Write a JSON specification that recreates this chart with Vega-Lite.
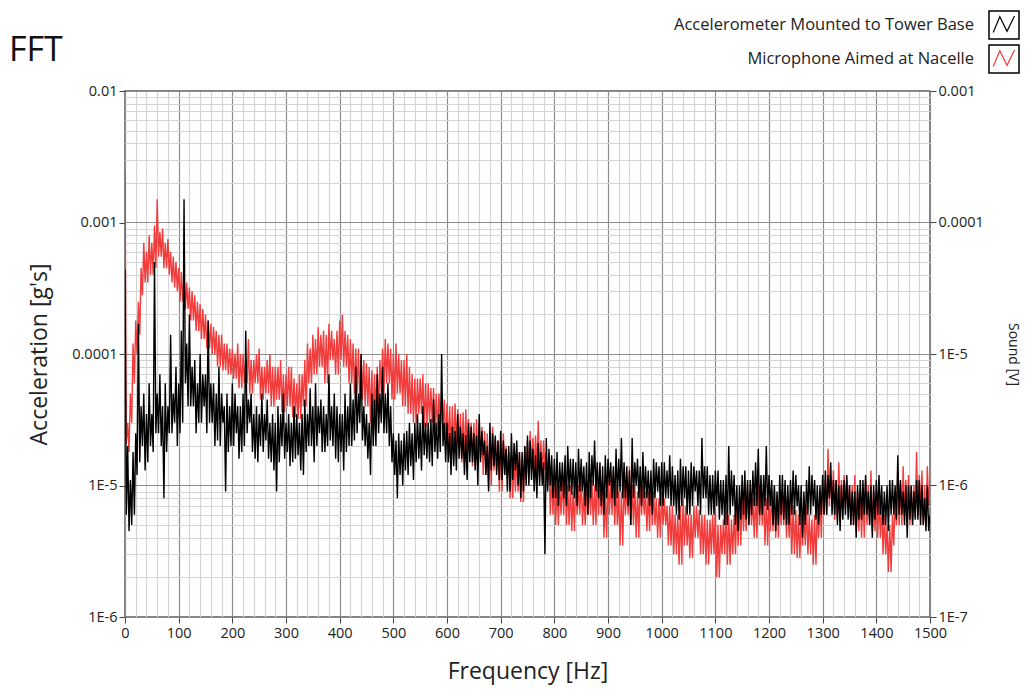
{
"$schema":"https://vega.github.io/schema/vega-lite/v6.json",
"width":805,"height":526,
"autosize":{"type":"none"},
"padding":{"left":125,"top":91,"right":104,"bottom":73},
"background":"white",
"config":{"view":{"stroke":"#5a5a5a","strokeWidth":1.5},"font":"Open Sans",
"axis":{"labelFont":"Open Sans","labelFontSize":14.5,"labelColor":"#222","titleFont":"Open Sans","titleFontWeight":"normal","titleColor":"#222","tickColor":"#444","domain":false,"labelFlush":false,"labelOverlap":false}},
"title":{"text":"FFT","anchor":"start","frame":"group","fontSize":34,"fontWeight":"normal","font":"Open Sans","color":"#111","dx":-116,"offset":25,"dy":84},
"datasets":{
"acc":[
{"f":0,"a":44e-5},{"f":2.5,"a":0.6e-5},{"f":5,"a":2e-5},{"f":7.5,"a":0.45e-5},{"f":10,"a":1.1e-5},{"f":12.5,"a":0.5e-5},{"f":15,"a":1.8e-5},{"f":17.5,"a":0.6e-5},{"f":20,"a":2.5e-5},{"f":22.5,"a":1.2e-5},
{"f":25,"a":17e-5},{"f":27.5,"a":1.5e-5},{"f":30,"a":4e-5},{"f":32.5,"a":2e-5},{"f":35,"a":5e-5},{"f":37.5,"a":1.3e-5},{"f":40,"a":3.5e-5},{"f":42.5,"a":1.5e-5},{"f":45,"a":6e-5},{"f":47.5,"a":2e-5},
{"f":50,"a":3.5e-5},{"f":52.5,"a":1.8e-5},{"f":55,"a":50e-5},{"f":57.5,"a":2.5e-5},{"f":60,"a":5e-5},{"f":62.5,"a":2.5e-5},{"f":65,"a":7e-5},{"f":67.5,"a":2e-5},{"f":70,"a":4e-5},{"f":72.5,"a":0.8e-5},
{"f":75,"a":6e-5},{"f":77.5,"a":1.8e-5},{"f":80,"a":4e-5},{"f":82.5,"a":2.5e-5},{"f":85,"a":14e-5},{"f":87.5,"a":2.5e-5},{"f":90,"a":5e-5},{"f":92.5,"a":3e-5},{"f":95,"a":8e-5},{"f":97.5,"a":2e-5},
{"f":100,"a":6e-5},{"f":102.5,"a":2.5e-5},{"f":105,"a":15e-5},{"f":107.5,"a":3e-5},{"f":110,"a":150e-5},{"f":112.5,"a":6e-5},{"f":115,"a":12e-5},{"f":117.5,"a":4e-5},{"f":120,"a":20e-5},{"f":122.5,"a":4e-5},
{"f":125,"a":8e-5},{"f":127.5,"a":4e-5},{"f":130,"a":9e-5},{"f":132.5,"a":2.5e-5},{"f":135,"a":6e-5},{"f":137.5,"a":3e-5},{"f":140,"a":10e-5},{"f":142.5,"a":3e-5},{"f":145,"a":7e-5},{"f":147.5,"a":4e-5},
{"f":150,"a":7e-5},{"f":152.5,"a":2.5e-5},{"f":155,"a":18e-5},{"f":157.5,"a":3e-5},{"f":160,"a":6e-5},{"f":162.5,"a":3e-5},{"f":165,"a":6e-5},{"f":167.5,"a":2e-5},{"f":170,"a":5e-5},{"f":172.5,"a":2.2e-5},
{"f":175,"a":8e-5},{"f":177.5,"a":2e-5},{"f":180,"a":5e-5},{"f":182.5,"a":3e-5},{"f":185,"a":4e-5},{"f":187.5,"a":0.9e-5},{"f":190,"a":5e-5},{"f":192.5,"a":1.8e-5},{"f":195,"a":4e-5},{"f":197.5,"a":2e-5},
{"f":200,"a":6e-5},{"f":202.5,"a":2e-5},{"f":205,"a":5e-5},{"f":207.5,"a":2.5e-5},{"f":210,"a":4e-5},{"f":212.5,"a":1.6e-5},{"f":215,"a":4e-5},{"f":217.5,"a":1.8e-5},{"f":220,"a":5e-5},{"f":222.5,"a":2e-5},
{"f":225,"a":15e-5},{"f":227.5,"a":2.5e-5},{"f":230,"a":4.5e-5},{"f":232.5,"a":3e-5},{"f":235,"a":5e-5},{"f":237.5,"a":1.8e-5},{"f":240,"a":3.5e-5},{"f":242.5,"a":1.6e-5},{"f":245,"a":4e-5},{"f":247.5,"a":1.5e-5},
{"f":250,"a":3.5e-5},{"f":252.5,"a":2e-5},{"f":255,"a":5e-5},{"f":257.5,"a":1.8e-5},{"f":260,"a":3.5e-5},{"f":262.5,"a":2.2e-5},{"f":265,"a":4.5e-5},{"f":267.5,"a":1.6e-5},{"f":270,"a":3e-5},{"f":272.5,"a":1.5e-5},
{"f":275,"a":3.5e-5},{"f":277.5,"a":1.3e-5},{"f":280,"a":3e-5},{"f":282.5,"a":0.9e-5},{"f":285,"a":4e-5},{"f":287.5,"a":1.5e-5},{"f":290,"a":3.5e-5},{"f":292.5,"a":2e-5},{"f":295,"a":5e-5},{"f":297.5,"a":1.6e-5},
{"f":300,"a":3e-5},{"f":302.5,"a":1.8e-5},{"f":305,"a":3.5e-5},{"f":307.5,"a":1.4e-5},{"f":310,"a":3e-5},{"f":312.5,"a":1.5e-5},{"f":315,"a":4e-5},{"f":317.5,"a":1.6e-5},{"f":320,"a":3.5e-5},{"f":322.5,"a":1.7e-5},
{"f":325,"a":3e-5},{"f":327.5,"a":1.3e-5},{"f":330,"a":3.5e-5},{"f":332.5,"a":1.2e-5},{"f":335,"a":4.5e-5},{"f":337.5,"a":1.8e-5},{"f":340,"a":3.5e-5},{"f":342.5,"a":2e-5},{"f":345,"a":5.5e-5},{"f":347.5,"a":2e-5},
{"f":350,"a":4e-5},{"f":352.5,"a":1.5e-5},{"f":355,"a":6e-5},{"f":357.5,"a":2e-5},{"f":360,"a":4e-5},{"f":362.5,"a":2.5e-5},{"f":365,"a":4.5e-5},{"f":367.5,"a":1.8e-5},{"f":370,"a":4e-5},{"f":372.5,"a":1.8e-5},
{"f":375,"a":3.5e-5},{"f":377.5,"a":2e-5},{"f":380,"a":7e-5},{"f":382.5,"a":2.2e-5},{"f":385,"a":4e-5},{"f":387.5,"a":2e-5},{"f":390,"a":5e-5},{"f":392.5,"a":1.6e-5},{"f":395,"a":4e-5},{"f":397.5,"a":1.5e-5},
{"f":400,"a":3.5e-5},{"f":402.5,"a":1.8e-5},{"f":405,"a":3.5e-5},{"f":407.5,"a":1.3e-5},{"f":410,"a":5e-5},{"f":412.5,"a":1.8e-5},{"f":415,"a":4e-5},{"f":417.5,"a":2e-5},{"f":420,"a":6e-5},{"f":422.5,"a":2e-5},
{"f":425,"a":4.5e-5},{"f":427.5,"a":2.2e-5},{"f":430,"a":8e-5},{"f":432.5,"a":2.5e-5},{"f":435,"a":5e-5},{"f":437.5,"a":3e-5},{"f":440,"a":10e-5},{"f":442.5,"a":2.2e-5},{"f":445,"a":4e-5},{"f":447.5,"a":2e-5},
{"f":450,"a":3.5e-5},{"f":452.5,"a":1.6e-5},{"f":455,"a":3e-5},{"f":457.5,"a":1.2e-5},{"f":460,"a":5e-5},{"f":462.5,"a":2e-5},{"f":465,"a":4.5e-5},{"f":467.5,"a":2e-5},{"f":470,"a":7e-5},{"f":472.5,"a":2.5e-5},
{"f":475,"a":5e-5},{"f":477.5,"a":3e-5},{"f":480,"a":8e-5},{"f":482.5,"a":2.5e-5},{"f":485,"a":5e-5},{"f":487.5,"a":2.5e-5},{"f":490,"a":6e-5},{"f":492.5,"a":2e-5},{"f":495,"a":4e-5},{"f":497.5,"a":1.5e-5},
{"f":500,"a":2.5e-5},{"f":502.5,"a":1.2e-5},{"f":505,"a":2.2e-5},{"f":507.5,"a":0.8e-5},{"f":510,"a":2.5e-5},{"f":512.5,"a":1.2e-5},{"f":515,"a":2.2e-5},{"f":517.5,"a":1e-5},{"f":520,"a":2.5e-5},{"f":522.5,"a":1.3e-5},
{"f":525,"a":2.6e-5},{"f":527.5,"a":1.2e-5},{"f":530,"a":3e-5},{"f":532.5,"a":1.4e-5},{"f":535,"a":2.5e-5},{"f":537.5,"a":1.1e-5},{"f":540,"a":3e-5},{"f":542.5,"a":1.5e-5},{"f":545,"a":3.5e-5},{"f":547.5,"a":1.6e-5},
{"f":550,"a":3e-5},{"f":552.5,"a":1.3e-5},{"f":555,"a":4e-5},{"f":557.5,"a":1.7e-5},{"f":560,"a":3e-5},{"f":562.5,"a":1.6e-5},{"f":565,"a":3e-5},{"f":567.5,"a":1.5e-5},{"f":570,"a":3.2e-5},{"f":572.5,"a":1.4e-5},
{"f":575,"a":4.5e-5},{"f":577.5,"a":1.8e-5},{"f":580,"a":3e-5},{"f":582.5,"a":1.6e-5},{"f":585,"a":3.5e-5},{"f":587.5,"a":1.8e-5},{"f":590,"a":10e-5},{"f":592.5,"a":2e-5},{"f":595,"a":3e-5},{"f":597.5,"a":1.5e-5},
{"f":600,"a":3e-5},{"f":602.5,"a":1.5e-5},{"f":605,"a":2.5e-5},{"f":607.5,"a":1.2e-5},{"f":610,"a":2.8e-5},{"f":612.5,"a":1.4e-5},{"f":615,"a":2.6e-5},{"f":617.5,"a":1.3e-5},{"f":620,"a":3.5e-5},{"f":622.5,"a":1.6e-5},
{"f":625,"a":2.8e-5},{"f":627.5,"a":1.6e-5},{"f":630,"a":2.5e-5},{"f":632.5,"a":1.2e-5},{"f":635,"a":2.4e-5},{"f":637.5,"a":1.1e-5},{"f":640,"a":3e-5},{"f":642.5,"a":1.5e-5},{"f":645,"a":2.8e-5},{"f":647.5,"a":1.5e-5},
{"f":650,"a":2.5e-5},{"f":652.5,"a":1.3e-5},{"f":655,"a":2.4e-5},{"f":657.5,"a":1e-5},{"f":660,"a":3.5e-5},{"f":662.5,"a":1.5e-5},{"f":665,"a":2.6e-5},{"f":667.5,"a":1.7e-5},{"f":670,"a":2.2e-5},{"f":672.5,"a":1.2e-5},
{"f":675,"a":2e-5},{"f":677.5,"a":0.9e-5},{"f":680,"a":3e-5},{"f":682.5,"a":1.3e-5},{"f":685,"a":2.5e-5},{"f":687.5,"a":1.4e-5},{"f":690,"a":2.4e-5},{"f":692.5,"a":1.2e-5},{"f":695,"a":2.2e-5},{"f":697.5,"a":1.1e-5},
{"f":700,"a":2.6e-5},{"f":702.5,"a":1.1e-5},{"f":705,"a":2.2e-5},{"f":707.5,"a":1.2e-5},{"f":710,"a":1.9e-5},{"f":712.5,"a":0.9e-5},{"f":715,"a":2e-5},{"f":717.5,"a":0.9e-5},{"f":720,"a":2.5e-5},{"f":722.5,"a":1.1e-5},
{"f":725,"a":2.1e-5},{"f":727.5,"a":1.3e-5},{"f":730,"a":2.2e-5},{"f":732.5,"a":1e-5},{"f":735,"a":1.8e-5},{"f":737.5,"a":0.8e-5},{"f":740,"a":1.8e-5},{"f":742.5,"a":0.9e-5},{"f":745,"a":2e-5},{"f":747.5,"a":1e-5},
{"f":750,"a":2.4e-5},{"f":752.5,"a":1e-5},{"f":755,"a":2.2e-5},{"f":757.5,"a":1.1e-5},{"f":760,"a":1.9e-5},{"f":762.5,"a":0.9e-5},{"f":765,"a":1.7e-5},{"f":767.5,"a":0.8e-5},{"f":770,"a":2.1e-5},{"f":772.5,"a":1e-5},
{"f":775,"a":1.8e-5},{"f":777.5,"a":1e-5},{"f":780,"a":1.5e-5},{"f":782.5,"a":0.3e-5},{"f":785,"a":2.3e-5},{"f":787.5,"a":0.9e-5},{"f":790,"a":1.9e-5},{"f":792.5,"a":1e-5},{"f":795,"a":1.7e-5},{"f":797.5,"a":0.8e-5},
{"f":800,"a":1.6e-5},{"f":802.5,"a":0.8e-5},{"f":805,"a":1.8e-5},{"f":807.5,"a":0.7e-5},{"f":810,"a":1.5e-5},{"f":812.5,"a":0.9e-5},{"f":815,"a":1.5e-5},{"f":817.5,"a":0.8e-5},{"f":820,"a":1.7e-5},{"f":822.5,"a":0.7e-5},
{"f":825,"a":2e-5},{"f":827.5,"a":0.9e-5},{"f":830,"a":1.6e-5},{"f":832.5,"a":0.85e-5},{"f":835,"a":1.6e-5},{"f":837.5,"a":0.8e-5},{"f":840,"a":1.5e-5},{"f":842.5,"a":0.7e-5},{"f":845,"a":1.9e-5},{"f":847.5,"a":0.9e-5},
{"f":850,"a":1.6e-5},{"f":852.5,"a":0.9e-5},{"f":855,"a":1.4e-5},{"f":857.5,"a":0.7e-5},{"f":860,"a":1.5e-5},{"f":862.5,"a":0.6e-5},{"f":865,"a":1.8e-5},{"f":867.5,"a":0.8e-5},{"f":870,"a":1.7e-5},{"f":872.5,"a":1e-5},
{"f":875,"a":2.2e-5},{"f":877.5,"a":0.9e-5},{"f":880,"a":1.5e-5},{"f":882.5,"a":0.8e-5},{"f":885,"a":1.5e-5},{"f":887.5,"a":0.7e-5},{"f":890,"a":1.4e-5},{"f":892.5,"a":0.6e-5},{"f":895,"a":1.7e-5},{"f":897.5,"a":0.8e-5},
{"f":900,"a":1.6e-5},{"f":902.5,"a":1e-5},{"f":905,"a":1.5e-5},{"f":907.5,"a":0.8e-5},{"f":910,"a":1.4e-5},{"f":912.5,"a":0.7e-5},{"f":915,"a":1.9e-5},{"f":917.5,"a":0.8e-5},{"f":920,"a":1.6e-5},{"f":922.5,"a":0.9e-5},
{"f":925,"a":2.3e-5},{"f":927.5,"a":0.8e-5},{"f":930,"a":1.5e-5},{"f":932.5,"a":0.8e-5},{"f":935,"a":1.4e-5},{"f":937.5,"a":0.7e-5},{"f":940,"a":1.3e-5},{"f":942.5,"a":0.5e-5},{"f":945,"a":2.3e-5},{"f":947.5,"a":0.8e-5},
{"f":950,"a":1.5e-5},{"f":952.5,"a":1e-5},{"f":955,"a":1.6e-5},{"f":957.5,"a":0.8e-5},{"f":960,"a":1.4e-5},{"f":962.5,"a":0.7e-5},{"f":965,"a":1.8e-5},{"f":967.5,"a":0.8e-5},{"f":970,"a":1.4e-5},{"f":972.5,"a":0.8e-5},
{"f":975,"a":1.3e-5},{"f":977.5,"a":0.7e-5},{"f":980,"a":1.3e-5},{"f":982.5,"a":0.6e-5},{"f":985,"a":1.6e-5},{"f":987.5,"a":0.8e-5},{"f":990,"a":1.5e-5},{"f":992.5,"a":0.9e-5},{"f":995,"a":1.4e-5},{"f":997.5,"a":0.7e-5},
{"f":1000,"a":1.5e-5},{"f":1002.5,"a":0.7e-5},{"f":1005,"a":1.5e-5},{"f":1007.5,"a":0.8e-5},{"f":1010,"a":1.3e-5},{"f":1012.5,"a":0.8e-5},{"f":1015,"a":1.7e-5},{"f":1017.5,"a":0.7e-5},{"f":1020,"a":1.4e-5},{"f":1022.5,"a":0.7e-5},
{"f":1025,"a":1.2e-5},{"f":1027.5,"a":0.6e-5},{"f":1030,"a":1.3e-5},{"f":1032.5,"a":0.55e-5},{"f":1035,"a":1.6e-5},{"f":1037.5,"a":0.7e-5},{"f":1040,"a":1.4e-5},{"f":1042.5,"a":0.8e-5},{"f":1045,"a":1.4e-5},{"f":1047.5,"a":0.6e-5},
{"f":1050,"a":1.3e-5},{"f":1052.5,"a":0.6e-5},{"f":1055,"a":1.5e-5},{"f":1057.5,"a":0.7e-5},{"f":1060,"a":1.4e-5},{"f":1062.5,"a":0.9e-5},{"f":1065,"a":1.3e-5},{"f":1067.5,"a":0.7e-5},{"f":1070,"a":1.3e-5},{"f":1072.5,"a":0.6e-5},
{"f":1075,"a":2.3e-5},{"f":1077.5,"a":0.8e-5},{"f":1080,"a":1.4e-5},{"f":1082.5,"a":0.8e-5},{"f":1085,"a":1.4e-5},{"f":1087.5,"a":0.6e-5},{"f":1090,"a":1.2e-5},{"f":1092.5,"a":0.6e-5},{"f":1095,"a":1.2e-5},{"f":1097.5,"a":0.6e-5},
{"f":1100,"a":1.3e-5},{"f":1102.5,"a":0.7e-5},{"f":1105,"a":1.3e-5},{"f":1107.5,"a":0.55e-5},{"f":1110,"a":1.1e-5},{"f":1112.5,"a":0.6e-5},{"f":1115,"a":1.1e-5},{"f":1117.5,"a":0.5e-5},{"f":1120,"a":1.2e-5},{"f":1122.5,"a":0.5e-5},
{"f":1125,"a":2e-5},{"f":1127.5,"a":0.6e-5},{"f":1130,"a":1.3e-5},{"f":1132.5,"a":0.7e-5},{"f":1135,"a":1.2e-5},{"f":1137.5,"a":0.5e-5},{"f":1140,"a":1e-5},{"f":1142.5,"a":0.45e-5},{"f":1145,"a":1e-5},{"f":1147.5,"a":0.55e-5},
{"f":1150,"a":1.2e-5},{"f":1152.5,"a":0.6e-5},{"f":1155,"a":1.3e-5},{"f":1157.5,"a":0.55e-5},{"f":1160,"a":1.1e-5},{"f":1162.5,"a":0.5e-5},{"f":1165,"a":1.1e-5},{"f":1167.5,"a":0.6e-5},{"f":1170,"a":1.3e-5},{"f":1172.5,"a":0.7e-5},
{"f":1175,"a":1.5e-5},{"f":1177.5,"a":0.7e-5},{"f":1180,"a":1.9e-5},{"f":1182.5,"a":0.6e-5},{"f":1185,"a":1.2e-5},{"f":1187.5,"a":0.6e-5},{"f":1190,"a":1.2e-5},{"f":1192.5,"a":0.7e-5},{"f":1195,"a":2e-5},{"f":1197.5,"a":0.65e-5},
{"f":1200,"a":1.2e-5},{"f":1202.5,"a":0.7e-5},{"f":1205,"a":1.1e-5},{"f":1207.5,"a":0.5e-5},{"f":1210,"a":1e-5},{"f":1212.5,"a":0.45e-5},{"f":1215,"a":0.9e-5},{"f":1217.5,"a":0.5e-5},{"f":1220,"a":1.2e-5},{"f":1222.5,"a":0.6e-5},
{"f":1225,"a":1.2e-5},{"f":1227.5,"a":0.55e-5},{"f":1230,"a":1.1e-5},{"f":1232.5,"a":0.5e-5},{"f":1235,"a":1e-5},{"f":1237.5,"a":0.5e-5},{"f":1240,"a":1.1e-5},{"f":1242.5,"a":0.6e-5},{"f":1245,"a":1.3e-5},{"f":1247.5,"a":0.6e-5},
{"f":1250,"a":1.2e-5},{"f":1252.5,"a":0.7e-5},{"f":1255,"a":1e-5},{"f":1257.5,"a":0.5e-5},{"f":1260,"a":1e-5},{"f":1262.5,"a":0.4e-5},{"f":1265,"a":0.9e-5},{"f":1267.5,"a":0.5e-5},{"f":1270,"a":1.1e-5},{"f":1272.5,"a":0.6e-5},
{"f":1275,"a":1.4e-5},{"f":1277.5,"a":0.6e-5},{"f":1280,"a":1.2e-5},{"f":1282.5,"a":0.7e-5},{"f":1285,"a":1.1e-5},{"f":1287.5,"a":0.55e-5},{"f":1290,"a":1e-5},{"f":1292.5,"a":0.5e-5},{"f":1295,"a":1e-5},{"f":1297.5,"a":0.6e-5},
{"f":1300,"a":1.2e-5},{"f":1302.5,"a":0.6e-5},{"f":1305,"a":1.3e-5},{"f":1307.5,"a":0.6e-5},{"f":1310,"a":1.2e-5},{"f":1312.5,"a":0.8e-5},{"f":1315,"a":1.5e-5},{"f":1317.5,"a":0.6e-5},{"f":1320,"a":1.1e-5},{"f":1322.5,"a":0.6e-5},
{"f":1325,"a":1.1e-5},{"f":1327.5,"a":0.5e-5},{"f":1330,"a":1e-5},{"f":1332.5,"a":0.45e-5},{"f":1335,"a":1e-5},{"f":1337.5,"a":0.55e-5},{"f":1340,"a":1.1e-5},{"f":1342.5,"a":0.6e-5},{"f":1345,"a":1.2e-5},{"f":1347.5,"a":0.55e-5},
{"f":1350,"a":1e-5},{"f":1352.5,"a":0.5e-5},{"f":1355,"a":0.9e-5},{"f":1357.5,"a":0.5e-5},{"f":1360,"a":0.9e-5},{"f":1362.5,"a":0.4e-5},{"f":1365,"a":1e-5},{"f":1367.5,"a":0.55e-5},{"f":1370,"a":1.1e-5},{"f":1372.5,"a":0.55e-5},
{"f":1375,"a":1.1e-5},{"f":1377.5,"a":0.6e-5},{"f":1380,"a":1.2e-5},{"f":1382.5,"a":0.6e-5},{"f":1385,"a":0.9e-5},{"f":1387.5,"a":0.5e-5},{"f":1390,"a":1e-5},{"f":1392.5,"a":0.4e-5},{"f":1395,"a":1e-5},{"f":1397.5,"a":0.55e-5},
{"f":1400,"a":1.1e-5},{"f":1402.5,"a":0.6e-5},{"f":1405,"a":1.2e-5},{"f":1407.5,"a":0.6e-5},{"f":1410,"a":1e-5},{"f":1412.5,"a":0.5e-5},{"f":1415,"a":0.9e-5},{"f":1417.5,"a":0.5e-5},{"f":1420,"a":1e-5},{"f":1422.5,"a":0.45e-5},
{"f":1425,"a":1.1e-5},{"f":1427.5,"a":0.6e-5},{"f":1430,"a":1.1e-5},{"f":1432.5,"a":0.6e-5},{"f":1435,"a":1e-5},{"f":1437.5,"a":0.55e-5},{"f":1440,"a":1.7e-5},{"f":1442.5,"a":0.6e-5},{"f":1445,"a":1.1e-5},{"f":1447.5,"a":0.6e-5},
{"f":1450,"a":0.9e-5},{"f":1452.5,"a":0.5e-5},{"f":1455,"a":1e-5},{"f":1457.5,"a":0.4e-5},{"f":1460,"a":1e-5},{"f":1462.5,"a":0.55e-5},{"f":1465,"a":1e-5},{"f":1467.5,"a":0.5e-5},{"f":1470,"a":0.9e-5},{"f":1472.5,"a":0.55e-5},
{"f":1475,"a":1.1e-5},{"f":1477.5,"a":0.55e-5},{"f":1480,"a":1.1e-5},{"f":1482.5,"a":0.5e-5},{"f":1485,"a":1e-5},{"f":1487.5,"a":0.5e-5},{"f":1490,"a":0.8e-5},{"f":1492.5,"a":0.45e-5},{"f":1495,"a":1e-5},{"f":1497.5,"a":0.45e-5},
{"f":1500,"a":0.6e-5}],
"mic":[
{"f":0,"v":250e-6},{"f":2.5,"v":2.1e-6},{"f":5,"v":3e-6},{"f":7.5,"v":1.8e-6},{"f":10,"v":5e-6},{"f":12.5,"v":3e-6},{"f":15,"v":12e-6},{"f":17.5,"v":6e-6},{"f":20,"v":18e-6},{"f":22.5,"v":10e-6},
{"f":25,"v":25e-6},{"f":27.5,"v":14e-6},{"f":30,"v":45e-6},{"f":32.5,"v":28e-6},{"f":35,"v":70e-6},{"f":37.5,"v":35e-6},{"f":40,"v":60e-6},{"f":42.5,"v":35e-6},{"f":45,"v":80e-6},{"f":47.5,"v":40e-6},
{"f":50,"v":70e-6},{"f":52.5,"v":40e-6},{"f":55,"v":95e-6},{"f":57.5,"v":45e-6},{"f":60,"v":150e-6},{"f":62.5,"v":55e-6},{"f":65,"v":85e-6},{"f":67.5,"v":55e-6},{"f":70,"v":90e-6},{"f":72.5,"v":45e-6},
{"f":75,"v":70e-6},{"f":77.5,"v":45e-6},{"f":80,"v":75e-6},{"f":82.5,"v":40e-6},{"f":85,"v":60e-6},{"f":87.5,"v":35e-6},{"f":90,"v":55e-6},{"f":92.5,"v":32e-6},{"f":95,"v":50e-6},{"f":97.5,"v":30e-6},
{"f":100,"v":45e-6},{"f":102.5,"v":25e-6},{"f":105,"v":42e-6},{"f":107.5,"v":25e-6},{"f":110,"v":40e-6},{"f":112.5,"v":22e-6},{"f":115,"v":35e-6},{"f":117.5,"v":22e-6},{"f":120,"v":32e-6},{"f":122.5,"v":18e-6},
{"f":125,"v":30e-6},{"f":127.5,"v":18e-6},{"f":130,"v":28e-6},{"f":132.5,"v":15e-6},{"f":135,"v":25e-6},{"f":137.5,"v":15e-6},{"f":140,"v":24e-6},{"f":142.5,"v":13e-6},{"f":145,"v":22e-6},{"f":147.5,"v":13e-6},
{"f":150,"v":20e-6},{"f":152.5,"v":11e-6},{"f":155,"v":18e-6},{"f":157.5,"v":11e-6},{"f":160,"v":17e-6},{"f":162.5,"v":10e-6},{"f":165,"v":16e-6},{"f":167.5,"v":10e-6},{"f":170,"v":15e-6},{"f":172.5,"v":8e-6},
{"f":175,"v":14e-6},{"f":177.5,"v":8e-6},{"f":180,"v":14e-6},{"f":182.5,"v":7.5e-6},{"f":185,"v":12e-6},{"f":187.5,"v":7.5e-6},{"f":190,"v":12e-6},{"f":192.5,"v":7e-6},{"f":195,"v":11e-6},{"f":197.5,"v":7e-6},
{"f":200,"v":11e-6},{"f":202.5,"v":6.5e-6},{"f":205,"v":10e-6},{"f":207.5,"v":6.5e-6},{"f":210,"v":12e-6},{"f":212.5,"v":5.5e-6},{"f":215,"v":10e-6},{"f":217.5,"v":5.5e-6},{"f":220,"v":10e-6},{"f":222.5,"v":6e-6},
{"f":225,"v":9e-6},{"f":227.5,"v":6e-6},{"f":230,"v":13e-6},{"f":232.5,"v":5e-6},{"f":235,"v":9e-6},{"f":237.5,"v":5e-6},{"f":240,"v":9e-6},{"f":242.5,"v":6e-6},{"f":245,"v":10e-6},{"f":247.5,"v":6e-6},
{"f":250,"v":11e-6},{"f":252.5,"v":4.5e-6},{"f":255,"v":8e-6},{"f":257.5,"v":4.5e-6},{"f":260,"v":8e-6},{"f":262.5,"v":5e-6},{"f":265,"v":9e-6},{"f":267.5,"v":5e-6},{"f":270,"v":10e-6},{"f":272.5,"v":4e-6},
{"f":275,"v":8e-6},{"f":277.5,"v":4e-6},{"f":280,"v":8e-6},{"f":282.5,"v":4.5e-6},{"f":285,"v":8e-6},{"f":287.5,"v":4.5e-6},{"f":290,"v":9e-6},{"f":292.5,"v":3.6e-6},{"f":295,"v":7e-6},{"f":297.5,"v":3.6e-6},
{"f":300,"v":7e-6},{"f":302.5,"v":4e-6},{"f":305,"v":8e-6},{"f":307.5,"v":4e-6},{"f":310,"v":8e-6},{"f":312.5,"v":3.3e-6},{"f":315,"v":6.5e-6},{"f":317.5,"v":3.3e-6},{"f":320,"v":6e-6},{"f":322.5,"v":3.2e-6},
{"f":325,"v":7e-6},{"f":327.5,"v":3.2e-6},{"f":330,"v":7e-6},{"f":332.5,"v":4e-6},{"f":335,"v":9e-6},{"f":337.5,"v":4e-6},{"f":340,"v":12e-6},{"f":342.5,"v":6e-6},{"f":345,"v":11e-6},{"f":347.5,"v":6e-6},
{"f":350,"v":14e-6},{"f":352.5,"v":7e-6},{"f":355,"v":13e-6},{"f":357.5,"v":7e-6},{"f":360,"v":16e-6},{"f":362.5,"v":8e-6},{"f":365,"v":14e-6},{"f":367.5,"v":8e-6},{"f":370,"v":15e-6},{"f":372.5,"v":6e-6},
{"f":375,"v":14e-6},{"f":377.5,"v":6e-6},{"f":380,"v":17e-6},{"f":382.5,"v":9e-6},{"f":385,"v":15e-6},{"f":387.5,"v":9e-6},{"f":390,"v":13e-6},{"f":392.5,"v":7e-6},{"f":395,"v":15e-6},{"f":397.5,"v":7e-6},
{"f":400,"v":18e-6},{"f":402.5,"v":9e-6},{"f":405,"v":20e-6},{"f":407.5,"v":8e-6},{"f":410,"v":15e-6},{"f":412.5,"v":8e-6},{"f":415,"v":14e-6},{"f":417.5,"v":6e-6},{"f":420,"v":13e-6},{"f":422.5,"v":6e-6},
{"f":425,"v":12e-6},{"f":427.5,"v":5e-6},{"f":430,"v":11e-6},{"f":432.5,"v":5e-6},{"f":435,"v":11e-6},{"f":437.5,"v":4.5e-6},{"f":440,"v":10e-6},{"f":442.5,"v":4.5e-6},{"f":445,"v":9e-6},{"f":447.5,"v":4e-6},
{"f":450,"v":8.5e-6},{"f":452.5,"v":4e-6},{"f":455,"v":8e-6},{"f":457.5,"v":3e-6},{"f":460,"v":7.5e-6},{"f":462.5,"v":3e-6},{"f":465,"v":7e-6},{"f":467.5,"v":3.5e-6},{"f":470,"v":8e-6},{"f":472.5,"v":3.5e-6},
{"f":475,"v":9e-6},{"f":477.5,"v":5e-6},{"f":480,"v":11e-6},{"f":482.5,"v":5e-6},{"f":485,"v":13e-6},{"f":487.5,"v":6e-6},{"f":490,"v":12e-6},{"f":492.5,"v":6e-6},{"f":495,"v":11e-6},{"f":497.5,"v":4.5e-6},
{"f":500,"v":10e-6},{"f":502.5,"v":4.5e-6},{"f":505,"v":12e-6},{"f":507.5,"v":5e-6},{"f":510,"v":10e-6},{"f":512.5,"v":5e-6},{"f":515,"v":9e-6},{"f":517.5,"v":4e-6},{"f":520,"v":9e-6},{"f":522.5,"v":4e-6},
{"f":525,"v":10e-6},{"f":527.5,"v":3.5e-6},{"f":530,"v":8e-6},{"f":532.5,"v":3.5e-6},{"f":535,"v":7e-6},{"f":537.5,"v":3e-6},{"f":540,"v":6.5e-6},{"f":542.5,"v":3e-6},{"f":545,"v":6.5e-6},{"f":547.5,"v":3.5e-6},
{"f":550,"v":6.5e-6},{"f":552.5,"v":3.5e-6},{"f":555,"v":7e-6},{"f":557.5,"v":2.8e-6},{"f":560,"v":6e-6},{"f":562.5,"v":2.8e-6},{"f":565,"v":6e-6},{"f":567.5,"v":3e-6},{"f":570,"v":5.5e-6},{"f":572.5,"v":3e-6},
{"f":575,"v":5.5e-6},{"f":577.5,"v":2.6e-6},{"f":580,"v":5e-6},{"f":582.5,"v":2.6e-6},{"f":585,"v":5e-6},{"f":587.5,"v":2.8e-6},{"f":590,"v":4.8e-6},{"f":592.5,"v":2.8e-6},{"f":595,"v":4.5e-6},{"f":597.5,"v":2e-6},
{"f":600,"v":4.2e-6},{"f":602.5,"v":2e-6},{"f":605,"v":4e-6},{"f":607.5,"v":1.7e-6},{"f":610,"v":4e-6},{"f":612.5,"v":1.7e-6},{"f":615,"v":4.2e-6},{"f":617.5,"v":2e-6},{"f":620,"v":3.8e-6},{"f":622.5,"v":2e-6},
{"f":625,"v":3.5e-6},{"f":627.5,"v":1.5e-6},{"f":630,"v":3.6e-6},{"f":632.5,"v":1.5e-6},{"f":635,"v":3.8e-6},{"f":637.5,"v":1.8e-6},{"f":640,"v":3.2e-6},{"f":642.5,"v":1.8e-6},{"f":645,"v":3e-6},{"f":647.5,"v":1.4e-6},
{"f":650,"v":3e-6},{"f":652.5,"v":1.4e-6},{"f":655,"v":3.2e-6},{"f":657.5,"v":1.6e-6},{"f":660,"v":2.9e-6},{"f":662.5,"v":1.6e-6},{"f":665,"v":2.8e-6},{"f":667.5,"v":1.2e-6},{"f":670,"v":2.6e-6},{"f":672.5,"v":1.2e-6},
{"f":675,"v":2.5e-6},{"f":677.5,"v":1e-6},{"f":680,"v":2.4e-6},{"f":682.5,"v":1e-6},{"f":685,"v":2.8e-6},{"f":687.5,"v":1.3e-6},{"f":690,"v":2.3e-6},{"f":692.5,"v":1.3e-6},{"f":695,"v":2.2e-6},{"f":697.5,"v":0.9e-6},
{"f":700,"v":2.2e-6},{"f":702.5,"v":0.9e-6},{"f":705,"v":2.5e-6},{"f":707.5,"v":1.2e-6},{"f":710,"v":2e-6},{"f":712.5,"v":1.2e-6},{"f":715,"v":1.8e-6},{"f":717.5,"v":0.8e-6},{"f":720,"v":1.7e-6},{"f":722.5,"v":0.8e-6},
{"f":725,"v":1.6e-6},{"f":727.5,"v":0.9e-6},{"f":730,"v":1.7e-6},{"f":732.5,"v":0.9e-6},{"f":735,"v":1.8e-6},{"f":737.5,"v":0.75e-6},{"f":740,"v":1.6e-6},{"f":742.5,"v":0.75e-6},{"f":745,"v":2e-6},{"f":747.5,"v":1.1e-6},
{"f":750,"v":2.2e-6},{"f":752.5,"v":1.1e-6},{"f":755,"v":2.6e-6},{"f":757.5,"v":1.3e-6},{"f":760,"v":2.3e-6},{"f":762.5,"v":1.3e-6},{"f":765,"v":2.4e-6},{"f":767.5,"v":1.3e-6},{"f":770,"v":3.1e-6},{"f":772.5,"v":1.2e-6},
{"f":775,"v":2.2e-6},{"f":777.5,"v":1.2e-6},{"f":780,"v":2.2e-6},{"f":782.5,"v":1.3e-6},{"f":785,"v":1.8e-6},{"f":787.5,"v":1e-6},{"f":790,"v":1.6e-6},{"f":792.5,"v":0.6e-6},{"f":795,"v":1.2e-6},{"f":797.5,"v":0.6e-6},
{"f":800,"v":1.2e-6},{"f":802.5,"v":0.5e-6},{"f":805,"v":1e-6},{"f":807.5,"v":0.5e-6},{"f":810,"v":1e-6},{"f":812.5,"v":0.6e-6},{"f":815,"v":1.1e-6},{"f":817.5,"v":0.6e-6},{"f":820,"v":1.3e-6},{"f":822.5,"v":0.5e-6},
{"f":825,"v":1e-6},{"f":827.5,"v":0.5e-6},{"f":830,"v":1e-6},{"f":832.5,"v":0.45e-6},{"f":835,"v":0.9e-6},{"f":837.5,"v":0.45e-6},{"f":840,"v":1.1e-6},{"f":842.5,"v":0.6e-6},{"f":845,"v":1e-6},{"f":847.5,"v":0.6e-6},
{"f":850,"v":1.2e-6},{"f":852.5,"v":0.5e-6},{"f":855,"v":0.9e-6},{"f":857.5,"v":0.5e-6},{"f":860,"v":0.9e-6},{"f":862.5,"v":0.6e-6},{"f":865,"v":1e-6},{"f":867.5,"v":0.6e-6},{"f":870,"v":1.1e-6},{"f":872.5,"v":0.5e-6},
{"f":875,"v":1e-6},{"f":877.5,"v":0.5e-6},{"f":880,"v":1.4e-6},{"f":882.5,"v":0.6e-6},{"f":885,"v":1.1e-6},{"f":887.5,"v":0.6e-6},{"f":890,"v":1e-6},{"f":892.5,"v":0.4e-6},{"f":895,"v":0.9e-6},{"f":897.5,"v":0.4e-6},
{"f":900,"v":1.2e-6},{"f":902.5,"v":0.6e-6},{"f":905,"v":1.1e-6},{"f":907.5,"v":0.6e-6},{"f":910,"v":1.3e-6},{"f":912.5,"v":0.5e-6},{"f":915,"v":1e-6},{"f":917.5,"v":0.5e-6},{"f":920,"v":0.9e-6},{"f":922.5,"v":0.35e-6},
{"f":925,"v":0.9e-6},{"f":927.5,"v":0.35e-6},{"f":930,"v":1.1e-6},{"f":932.5,"v":0.6e-6},{"f":935,"v":1e-6},{"f":937.5,"v":0.6e-6},{"f":940,"v":1.4e-6},{"f":942.5,"v":0.5e-6},{"f":945,"v":1e-6},{"f":947.5,"v":0.5e-6},
{"f":950,"v":1e-6},{"f":952.5,"v":0.4e-6},{"f":955,"v":0.9e-6},{"f":957.5,"v":0.4e-6},{"f":960,"v":1.2e-6},{"f":962.5,"v":0.6e-6},{"f":965,"v":1e-6},{"f":967.5,"v":0.6e-6},{"f":970,"v":0.9e-6},{"f":972.5,"v":0.45e-6},
{"f":975,"v":0.9e-6},{"f":977.5,"v":0.45e-6},{"f":980,"v":1.1e-6},{"f":982.5,"v":0.5e-6},{"f":985,"v":0.9e-6},{"f":987.5,"v":0.5e-6},{"f":990,"v":0.8e-6},{"f":992.5,"v":0.4e-6},{"f":995,"v":0.8e-6},{"f":997.5,"v":0.4e-6},
{"f":1000,"v":0.9e-6},{"f":1002.5,"v":0.5e-6},{"f":1005,"v":0.8e-6},{"f":1007.5,"v":0.5e-6},{"f":1010,"v":0.7e-6},{"f":1012.5,"v":0.35e-6},{"f":1015,"v":0.7e-6},{"f":1017.5,"v":0.35e-6},{"f":1020,"v":0.7e-6},{"f":1022.5,"v":0.3e-6},
{"f":1025,"v":0.6e-6},{"f":1027.5,"v":0.3e-6},{"f":1030,"v":0.6e-6},{"f":1032.5,"v":0.25e-6},{"f":1035,"v":0.7e-6},{"f":1037.5,"v":0.25e-6},{"f":1040,"v":0.8e-6},{"f":1042.5,"v":0.35e-6},{"f":1045,"v":0.7e-6},{"f":1047.5,"v":0.35e-6},
{"f":1050,"v":0.6e-6},{"f":1052.5,"v":0.28e-6},{"f":1055,"v":0.6e-6},{"f":1057.5,"v":0.28e-6},{"f":1060,"v":0.7e-6},{"f":1062.5,"v":0.4e-6},{"f":1065,"v":0.7e-6},{"f":1067.5,"v":0.4e-6},{"f":1070,"v":0.65e-6},{"f":1072.5,"v":0.3e-6},
{"f":1075,"v":0.6e-6},{"f":1077.5,"v":0.3e-6},{"f":1080,"v":0.6e-6},{"f":1082.5,"v":0.25e-6},{"f":1085,"v":0.55e-6},{"f":1087.5,"v":0.25e-6},{"f":1090,"v":0.55e-6},{"f":1092.5,"v":0.3e-6},{"f":1095,"v":0.6e-6},{"f":1097.5,"v":0.3e-6},
{"f":1100,"v":0.7e-6},{"f":1102.5,"v":0.2e-6},{"f":1105,"v":0.5e-6},{"f":1107.5,"v":0.2e-6},{"f":1110,"v":0.5e-6},{"f":1112.5,"v":0.3e-6},{"f":1115,"v":0.55e-6},{"f":1117.5,"v":0.3e-6},{"f":1120,"v":0.65e-6},{"f":1122.5,"v":0.25e-6},
{"f":1125,"v":0.6e-6},{"f":1127.5,"v":0.25e-6},{"f":1130,"v":0.55e-6},{"f":1132.5,"v":0.3e-6},{"f":1135,"v":0.6e-6},{"f":1137.5,"v":0.3e-6},{"f":1140,"v":0.7e-6},{"f":1142.5,"v":0.35e-6},{"f":1145,"v":0.75e-6},{"f":1147.5,"v":0.35e-6},
{"f":1150,"v":0.9e-6},{"f":1152.5,"v":0.45e-6},{"f":1155,"v":0.85e-6},{"f":1157.5,"v":0.45e-6},{"f":1160,"v":1e-6},{"f":1162.5,"v":0.5e-6},{"f":1165,"v":0.9e-6},{"f":1167.5,"v":0.5e-6},{"f":1170,"v":0.8e-6},{"f":1172.5,"v":0.4e-6},
{"f":1175,"v":0.9e-6},{"f":1177.5,"v":0.4e-6},{"f":1180,"v":1.1e-6},{"f":1182.5,"v":0.5e-6},{"f":1185,"v":0.9e-6},{"f":1187.5,"v":0.5e-6},{"f":1190,"v":0.9e-6},{"f":1192.5,"v":0.35e-6},{"f":1195,"v":0.8e-6},{"f":1197.5,"v":0.35e-6},
{"f":1200,"v":0.8e-6},{"f":1202.5,"v":0.45e-6},{"f":1205,"v":0.9e-6},{"f":1207.5,"v":0.45e-6},{"f":1210,"v":1e-6},{"f":1212.5,"v":0.4e-6},{"f":1215,"v":0.85e-6},{"f":1217.5,"v":0.4e-6},{"f":1220,"v":0.85e-6},{"f":1222.5,"v":0.5e-6},
{"f":1225,"v":0.9e-6},{"f":1227.5,"v":0.5e-6},{"f":1230,"v":1e-6},{"f":1232.5,"v":0.4e-6},{"f":1235,"v":0.8e-6},{"f":1237.5,"v":0.4e-6},{"f":1240,"v":0.7e-6},{"f":1242.5,"v":0.3e-6},{"f":1245,"v":0.7e-6},{"f":1247.5,"v":0.3e-6},
{"f":1250,"v":0.65e-6},{"f":1252.5,"v":0.28e-6},{"f":1255,"v":0.6e-6},{"f":1257.5,"v":0.28e-6},{"f":1260,"v":0.6e-6},{"f":1262.5,"v":0.35e-6},{"f":1265,"v":0.65e-6},{"f":1267.5,"v":0.35e-6},{"f":1270,"v":0.7e-6},{"f":1272.5,"v":0.3e-6},
{"f":1275,"v":0.6e-6},{"f":1277.5,"v":0.3e-6},{"f":1280,"v":0.55e-6},{"f":1282.5,"v":0.25e-6},{"f":1285,"v":0.6e-6},{"f":1287.5,"v":0.25e-6},{"f":1290,"v":0.7e-6},{"f":1292.5,"v":0.4e-6},{"f":1295,"v":0.9e-6},{"f":1297.5,"v":0.4e-6},
{"f":1300,"v":1.2e-6},{"f":1302.5,"v":0.6e-6},{"f":1305,"v":1.1e-6},{"f":1307.5,"v":0.6e-6},{"f":1310,"v":1.9e-6},{"f":1312.5,"v":0.7e-6},{"f":1315,"v":1.2e-6},{"f":1317.5,"v":0.7e-6},{"f":1320,"v":1.3e-6},{"f":1322.5,"v":0.55e-6},
{"f":1325,"v":1.1e-6},{"f":1327.5,"v":0.55e-6},{"f":1330,"v":1.5e-6},{"f":1332.5,"v":0.6e-6},{"f":1335,"v":1.1e-6},{"f":1337.5,"v":0.6e-6},{"f":1340,"v":1.2e-6},{"f":1342.5,"v":0.7e-6},{"f":1345,"v":1.1e-6},{"f":1347.5,"v":0.7e-6},
{"f":1350,"v":1e-6},{"f":1352.5,"v":0.5e-6},{"f":1355,"v":1e-6},{"f":1357.5,"v":0.5e-6},{"f":1360,"v":1.2e-6},{"f":1362.5,"v":0.45e-6},{"f":1365,"v":0.9e-6},{"f":1367.5,"v":0.45e-6},{"f":1370,"v":0.9e-6},{"f":1372.5,"v":0.4e-6},
{"f":1375,"v":0.9e-6},{"f":1377.5,"v":0.4e-6},{"f":1380,"v":1.1e-6},{"f":1382.5,"v":0.5e-6},{"f":1385,"v":1e-6},{"f":1387.5,"v":0.5e-6},{"f":1390,"v":1.3e-6},{"f":1392.5,"v":0.45e-6},{"f":1395,"v":0.9e-6},{"f":1397.5,"v":0.45e-6},
{"f":1400,"v":0.8e-6},{"f":1402.5,"v":0.4e-6},{"f":1405,"v":0.8e-6},{"f":1407.5,"v":0.4e-6},{"f":1410,"v":0.7e-6},{"f":1412.5,"v":0.3e-6},{"f":1415,"v":0.6e-6},{"f":1417.5,"v":0.3e-6},{"f":1420,"v":0.5e-6},{"f":1422.5,"v":0.22e-6},
{"f":1425,"v":0.5e-6},{"f":1427.5,"v":0.22e-6},{"f":1430,"v":0.6e-6},{"f":1432.5,"v":0.35e-6},{"f":1435,"v":0.8e-6},{"f":1437.5,"v":0.5e-6},{"f":1440,"v":1.3e-6},{"f":1442.5,"v":0.5e-6},{"f":1445,"v":1e-6},{"f":1447.5,"v":0.5e-6},
{"f":1450,"v":1.4e-6},{"f":1452.5,"v":0.6e-6},{"f":1455,"v":1.1e-6},{"f":1457.5,"v":0.6e-6},{"f":1460,"v":1.2e-6},{"f":1462.5,"v":0.5e-6},{"f":1465,"v":1e-6},{"f":1467.5,"v":0.5e-6},{"f":1470,"v":1e-6},{"f":1472.5,"v":0.6e-6},
{"f":1475,"v":1.8e-6},{"f":1477.5,"v":0.6e-6},{"f":1480,"v":1.2e-6},{"f":1482.5,"v":0.6e-6},{"f":1485,"v":1.3e-6},{"f":1487.5,"v":0.5e-6},{"f":1490,"v":1e-6},{"f":1492.5,"v":0.5e-6},{"f":1495,"v":1.4e-6},{"f":1497.5,"v":0.7e-6},
{"f":1500,"v":1.1e-6}]
},
"encoding":{"x":{"field":"f","type":"quantitative","scale":{"domain":[0,1500],"nice":false,"zero":false},
"axis":{"title":"Frequency [Hz]","titleFontSize":23,"titlePadding":21,"format":"d","tickSize":6,"labelPadding":3,
"values":[0,20,40,60,80,100,120,140,160,180,200,220,240,260,280,300,320,340,360,380,400,420,440,460,480,500,520,540,560,580,600,620,640,660,680,700,720,740,760,780,800,820,840,860,880,900,920,940,960,980,1000,1020,1040,1060,1080,1100,1120,1140,1160,1180,1200,1220,1240,1260,1280,1300,1320,1340,1360,1380,1400,1420,1440,1460,1480,1500],
"labelExpr":"datum.value % 100 === 0 ? datum.label : ''",
"grid":true,
"gridColor":{"condition":{"test":"datum.value % 100 === 0","value":"#8c8c8c"},"value":"#d4d4d4"},
"gridWidth":1.2,
"tickOpacity":{"condition":{"test":"datum.value % 100 === 0","value":1},"value":0}}}},
"layer":[
{"data":{"name":"mic"},"mark":{"type":"line","strokeWidth":1.4,"clip":true,"interpolate":"linear"},
"encoding":{
"y":{"field":"v","type":"quantitative","scale":{"type":"log","domain":[1e-7,1e-3],"nice":false},
"axis":{"orient":"right","title":"Sound [V]","titleFontSize":14,"titlePadding":22,"tickSize":6,"labelPadding":2,
"values":[1e-7,2e-7,3e-7,4e-7,5e-7,6e-7,7e-7,8e-7,9e-7,1e-6,2e-6,3e-6,4e-6,5e-6,6e-6,7e-6,8e-6,9e-6,1e-5,2e-5,3e-5,4e-5,5e-5,6e-5,7e-5,8e-5,9e-5,1e-4,2e-4,3e-4,4e-4,5e-4,6e-4,7e-4,8e-4,9e-4,1e-3],
"labelExpr":"abs(log(datum.value)/LN10 - round(log(datum.value)/LN10)) < 0.001 ? (datum.value > 0.0005 ? '0.001' : datum.value > 0.00005 ? '0.0001' : '1E' + round(log(datum.value)/LN10)) : ''",
"grid":true,
"gridColor":{"condition":{"test":"abs(log(datum.value)/LN10 - round(log(datum.value)/LN10)) < 0.001","value":"#8c8c8c"},"value":"#d4d4d4"},
"gridWidth":1.2,
"tickOpacity":{"condition":{"test":"abs(log(datum.value)/LN10 - round(log(datum.value)/LN10)) < 0.001","value":1},"value":0}}},
"color":{"datum":"Microphone Aimed at Nacelle","type":"nominal",
"scale":{"domain":["Accelerometer Mounted to Tower Base","Microphone Aimed at Nacelle"],"range":["#000000","#f23c3c"]},
"legend":{"orient":"none","legendX":863,"legendY":-82,"title":null,"zindex":2,"symbolType":"M-1,-0.93M1,0.93M-0.72,0.5L-0.28,-0.55L0.2,0.42L0.7,-0.6","symbolSize":900,"symbolStrokeWidth":1.2,"labelOffset":-46,"labelAlign":"right","labelFontSize":16.5,"labelFont":"Open Sans","labelColor":"#222","rowPadding":0,"labelLimit":400}},
"opacity":{"datum":"Microphone Aimed at Nacelle","type":"nominal",
"scale":{"domain":["Microphone Aimed at Nacelle","Accelerometer Mounted to Tower Base"],"range":[1,1]},
"legend":{"orient":"none","legendX":863,"legendY":-82,"title":null,"zindex":1,"symbolType":"M-1,-0.93H1V0.93H-1Z","symbolSize":900,"symbolStrokeColor":"#555555","symbolFillColor":"transparent","symbolStrokeWidth":1.5,"symbolOpacity":1,"labelExpr":"''","labelOffset":-46,"labelAlign":"right","labelFontSize":16.5,"labelFont":"Open Sans","rowPadding":0,"labelLimit":400}}}},
{"data":{"name":"acc"},"mark":{"type":"line","strokeWidth":1.4,"clip":true,"interpolate":"linear"},
"encoding":{
"y":{"field":"a","type":"quantitative","scale":{"type":"log","domain":[1e-6,1e-2],"nice":false},
"axis":{"orient":"left","title":"Acceleration [g's]","titleFontSize":23,"titlePadding":20,"tickSize":6,"labelPadding":2,"grid":false,
"values":[1e-6,1e-5,1e-4,1e-3,1e-2],
"labelExpr":"datum.value > 0.005 ? '0.01' : datum.value > 0.0005 ? '0.001' : datum.value > 0.00005 ? '0.0001' : '1E' + round(log(datum.value)/LN10)"}},
"color":{"datum":"Accelerometer Mounted to Tower Base","type":"nominal"},
"opacity":{"datum":"Accelerometer Mounted to Tower Base","type":"nominal"}}}
],
"resolve":{"scale":{"y":"independent"}}
}
